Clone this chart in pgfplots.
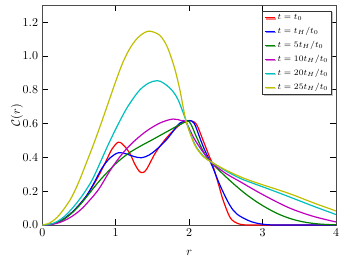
\documentclass[border=0pt]{standalone}
\usepackage{pgfplots}
\pgfplotsset{compat=1.18}
\usetikzlibrary{shadows}
\definecolor{mpr}{rgb}{1,0,0}
\definecolor{mpb}{rgb}{0,0,1}
\definecolor{mpg}{rgb}{0,0.5,0}
\definecolor{mpm}{rgb}{0.75,0,0.75}
\definecolor{mpc}{rgb}{0,0.75,0.75}
\definecolor{mpy}{rgb}{0.75,0.75,0}
\begin{document}
\begin{tikzpicture}
\begin{axis}[
  scale only axis,
  width=244.75pt, height=183.1pt,
  xmin=0, xmax=4, ymin=0, ymax=1.3,
  xtick={0,1,2,3,4},
  ytick={0,0.2,0.4,0.6,0.8,1.0,1.2},
  yticklabel style={/pgf/number format/.cd, fixed, fixed zerofill, precision=1},
  tick align=inside,
  major tick length=5pt,
  minor tick num=0,
  axis line style={black!70, line width=0.6pt},
  tick style={black, line width=0.5pt},
  xlabel={$r$}, ylabel={$\mathcal{C}(r)$},
  xlabel style={yshift=-4.5pt},
  ylabel style={yshift=-7pt},
  every axis plot/.append style={line width=1pt, smooth, tension=0.55, no markers},
  legend style={at={(1,1)}, anchor=north east, xshift=-3.3pt, yshift=-4.5pt,
    font=\scriptsize, draw=black!80, line width=0.6pt, inner xsep=1pt, inner ysep=0.8pt,
    row sep=0.9pt, drop shadow={shadow xshift=1pt, shadow yshift=-1pt, fill=black!45}},
  legend cell align=left,
  legend image code/.code={\draw[#1,line width=1pt] (0pt,0pt) -- (8.3pt,0pt);},
  clip=true,
]
\addplot[mpr] coordinates {
(0,0) (0.1,0.003) (0.2,0.015) (0.3,0.038) (0.4,0.073) (0.5,0.118) (0.6,0.172) (0.7,0.24)
(0.8,0.318) (0.876,0.386) (0.95,0.45) (1.034,0.49) (1.1,0.475) (1.19,0.425)
(1.26,0.36) (1.32,0.318) (1.37,0.31) (1.42,0.33) (1.5,0.395) (1.56,0.44) (1.7,0.52)
(1.85,0.585) (1.95,0.612) (2.02,0.617) (2.1,0.595) (2.19,0.50) (2.28,0.40) (2.313,0.366)
(2.4,0.24) (2.46,0.15) (2.55,0.05) (2.62,0.018) (2.7,0.004) (2.8,0) (3,0) (4,0)};
\addlegendentry{$t=t_0$}
\addplot[mpb] coordinates {
(0,0) (0.1,0.003) (0.2,0.015) (0.3,0.038) (0.4,0.073) (0.5,0.118) (0.6,0.172) (0.7,0.245)
(0.81,0.335) (0.925,0.398) (1.04,0.428) (1.15,0.42) (1.25,0.405) (1.35,0.398)
(1.45,0.413) (1.55,0.445) (1.69,0.504) (1.8,0.565) (1.873,0.603) (2.0,0.618)
(2.07,0.60) (2.15,0.51) (2.21,0.445) (2.313,0.35) (2.42,0.235) (2.55,0.12) (2.65,0.065)
(2.8,0.028) (2.9,0.013) (3.0,0.005) (3.2,0) (4,0)};
\addlegendentry{$t=t_H/t_0$}
\addplot[mpg] coordinates {
(0,0) (0.1,0.003) (0.2,0.014) (0.3,0.036) (0.4,0.07) (0.5,0.113) (0.6,0.165) (0.7,0.22)
(0.8,0.272) (0.92,0.328) (1.0,0.363) (1.1,0.40) (1.2,0.432) (1.35,0.47) (1.5,0.505)
(1.7,0.553) (1.9,0.60) (2.0,0.612) (2.1,0.52) (2.2,0.43) (2.313,0.366) (2.5,0.285)
(2.7,0.208) (2.85,0.158) (3.0,0.115) (3.2,0.068) (3.4,0.035) (3.6,0.015) (3.8,0.005)
(4.0,0.001)};
\addlegendentry{$t=5t_H/t_0$}
\addplot[mpm] coordinates {
(0,0) (0.1,0.002) (0.2,0.01) (0.3,0.026) (0.4,0.05) (0.5,0.082) (0.6,0.125) (0.762,0.208)
(0.92,0.32) (1.05,0.40) (1.2,0.475) (1.4,0.55) (1.6,0.603) (1.78,0.627) (1.9,0.617)
(1.955,0.609) (2.07,0.51) (2.2,0.425) (2.313,0.366) (2.5,0.305) (2.7,0.255) (2.83,0.222)
(2.96,0.19) (3.2,0.135) (3.415,0.092) (3.7,0.05) (4.0,0.018)};
\addlegendentry{$t=10t_H/t_0$}
\addplot[mpc] coordinates {
(0,0) (0.1,0.004) (0.2,0.02) (0.3,0.05) (0.4,0.095) (0.5,0.148) (0.6,0.21) (0.7,0.285)
(0.876,0.455) (1.0,0.568) (1.125,0.672) (1.216,0.735) (1.33,0.80) (1.45,0.84) (1.565,0.854)
(1.65,0.84) (1.76,0.80) (1.85,0.74) (1.955,0.62) (2.04,0.515) (2.1,0.46) (2.2,0.405)
(2.313,0.37) (2.5,0.32) (2.7,0.275) (2.85,0.25) (3.0,0.226) (3.2,0.194) (3.415,0.158)
(3.7,0.11) (4.0,0.062)};
\addlegendentry{$t=20t_H/t_0$}
\addplot[mpy] coordinates {
(0,0) (0.1,0.012) (0.2,0.045) (0.3,0.098) (0.4,0.165) (0.5,0.258) (0.6,0.368) (0.7,0.48)
(0.8,0.6) (0.9,0.725) (1.0,0.85) (1.1,0.965) (1.2,1.05) (1.3,1.108) (1.4,1.14) (1.475,1.146)
(1.6,1.122) (1.7,1.055) (1.8,0.93) (1.873,0.80) (1.955,0.62) (2.04,0.51) (2.1,0.455)
(2.2,0.402) (2.313,0.37) (2.5,0.325) (2.7,0.285) (2.85,0.26) (3.0,0.238) (3.2,0.21)
(3.415,0.178) (3.7,0.13) (4.0,0.083)};
\addlegendentry{$t=25t_H/t_0$}
\end{axis}
\pgfresetboundingbox
\path (current axis.south west) ++(-35.25pt,-30.8pt) coordinate (bbA);
\path (current axis.north east) ++(8.3pt,4.4pt) coordinate (bbB);
\useasboundingbox (bbA) rectangle (bbB);
\end{tikzpicture}
\end{document}
